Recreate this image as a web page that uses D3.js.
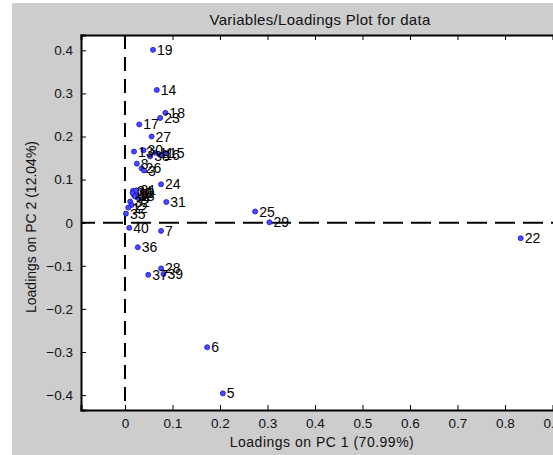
<!DOCTYPE html>
<meta charset="utf-8">
<title>Variables/Loadings Plot for data</title>
<style>
body { margin: 0; background: #fff; }
svg { display: block; overflow: hidden; font-family: Arial, "Liberation Sans", sans-serif; }
.tick text { font-size: 13.5px; fill: #111; }
.lbl { font-size: 14px; fill: #000; }
</style>
<svg width="553" height="455"></svg>
<script src="https://cdnjs.cloudflare.com/ajax/libs/d3/7.8.5/d3.min.js"></script>
<script>
// loadings
var labels = [19, 14, 18, 23, 17, 27, 13, 30, 38, 11, 16, 15, 8, 26, 3, 24, 31,
	34, 10, 1, 9, 20, 21, 33, 4, 32, 2, 12, 35, 40, 7, 36, 37, 28, 39, 6, 5, 25, 29, 22]
var pc1 = [0.059, 0.067, 0.085, 0.074, 0.030, 0.056, 0.019, 0.039, 0.053, 0.064, 0.074, 0.084, 0.025, 0.035, 0.040, 0.076, 0.087,
	0.017, 0.021, 0.019, 0.024, 0.016, 0.024, 0.021, 0.028, 0.011, 0.014, 0.007, 0.002, 0.009, 0.076, 0.027, 0.049, 0.076, 0.081, 0.173, 0.206, 0.274, 0.304, 0.833]
var pc2 = [0.401, 0.308, 0.255, 0.243, 0.228, 0.200, 0.165, 0.168, 0.154, 0.162, 0.157, 0.162, 0.137, 0.126, 0.121, 0.089, 0.048,
	0.074, 0.069, 0.064, 0.067, 0.069, 0.075, 0.061, 0.057, 0.049, 0.041, 0.035, 0.021, -0.012, -0.019, -0.057, -0.121, -0.106, -0.119, -0.289, -0.396, 0.026, 0.001, -0.036]

var xTicks = [0, 0.1, 0.2, 0.3, 0.4, 0.5, 0.6, 0.7, 0.8, 0.9]
var yTicks = [-0.4, -0.3, -0.2, -0.1, 0, 0.1, 0.2, 0.3, 0.4]

var title = "Variables/Loadings Plot for data"
var xTitle = "Loadings on PC 1 (70.99%)"
var yTitle = "Loadings on PC 2 (12.04%)"

var svg = d3.select("svg")
var pLeft = 81, pRight = 560, pTop = 35, pBottom = 410

var x = d3.scaleLinear().domain([-0.0926, 0.9158]).range([pLeft, pRight])
var y = d3.scaleLinear().domain([-0.4346, 0.4355]).range([pBottom, pTop])

// figure background
svg.append("rect").attr("x", 12).attr("y", 3).attr("width", 553).attr("height", 455).attr("fill", "#cdcdcd")
svg.append("rect").attr("x", pLeft).attr("y", pTop).attr("width", pRight - pLeft).attr("height", pBottom - pTop).attr("fill", "#fff")

svg.append("text").attr("x", 320).attr("y", 25).attr("text-anchor", "middle")
	.style("font-size", "15px").style("letter-spacing", "0.3px").attr("fill", "#111").text(title)

var fmt = function(d) { return d === 0 ? "0" : d3.format(".1f")(d) }

svg.append("g").attr("transform", "translate(0," + pBottom + ")")
	.call(d3.axisTop(x).tickValues(xTicks).tickSize(5).tickFormat(""))
var xl = svg.append("g").attr("transform", "translate(0," + pBottom + ")")
	.call(d3.axisBottom(x).tickValues(xTicks).tickSize(0).tickPadding(8).tickFormat(fmt))
xl.select(".domain").remove()
svg.append("g").attr("transform", "translate(0," + pTop + ")")
	.call(d3.axisBottom(x).tickValues(xTicks).tickSize(5).tickFormat(""))
svg.append("g").attr("transform", "translate(" + pLeft + ",0)")
	.call(d3.axisRight(y).tickValues(yTicks).tickSize(5).tickFormat(""))
var ylab = svg.append("g").attr("transform", "translate(" + pLeft + ",0)")
	.call(d3.axisLeft(y).tickValues(yTicks).tickSize(0).tickPadding(8).tickFormat(fmt))
ylab.select(".domain").remove()

svg.selectAll(".domain").attr("stroke", "#000").attr("stroke-width", 2)
svg.selectAll(".tick line").attr("stroke", "#000")

// zero lines
svg.append("line").attr("x1", x(0)).attr("x2", x(0)).attr("y1", pTop).attr("y2", pBottom)
	.attr("stroke", "#000").attr("stroke-width", 2).attr("stroke-dasharray", "14,8")
svg.append("line").attr("x1", pLeft).attr("x2", pRight).attr("y1", y(0)).attr("y2", y(0))
	.attr("stroke", "#000").attr("stroke-width", 2).attr("stroke-dasharray", "20,8").attr("stroke-dashoffset", 6)

svg.append("text").attr("x", 322).attr("y", 447).attr("text-anchor", "middle")
	.style("font-size", "14px").style("letter-spacing", "0.5px").attr("fill", "#111").text(xTitle)
svg.append("text").attr("transform", "translate(36,227) rotate(-90)").attr("text-anchor", "middle")
	.style("font-size", "14px").attr("fill", "#111").text(yTitle)

var pts = labels.map(function(d, i) { return {name: d, x: pc1[i], y: pc2[i]} })

svg.append("g").selectAll("circle").data(pts).enter().append("circle")
	.attr("cx", function(d) { return x(d.x) })
	.attr("cy", function(d) { return y(d.y) })
	.attr("r", 2.5)
	.attr("fill", "#4a4aff").attr("stroke", "#1010e0").attr("stroke-width", 0.8)

svg.append("g").selectAll("text").data(pts).enter().append("text")
	.attr("class", "lbl")
	.attr("x", function(d) { return x(d.x) + 4 })
	.attr("y", function(d) { return y(d.y) })
	.attr("dy", "0.36em")
	.text(function(d) { return d.name })
</script>
